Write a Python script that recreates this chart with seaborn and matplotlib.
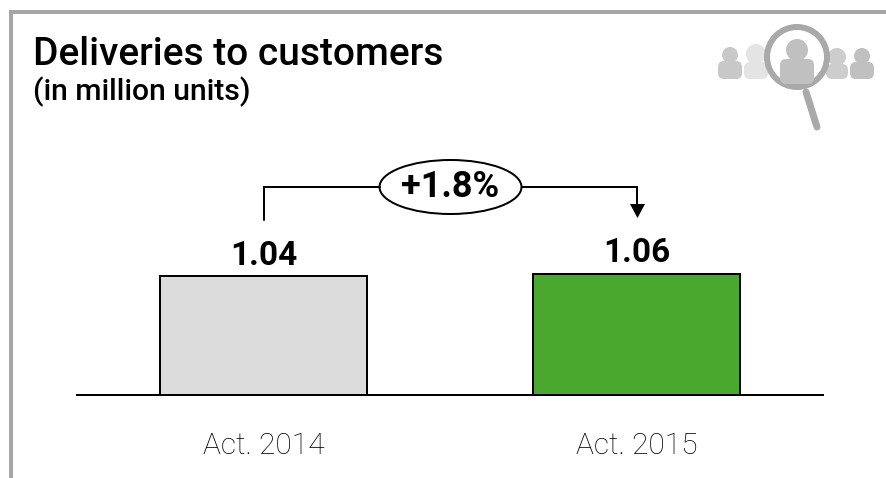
import matplotlib
matplotlib.use("Agg")
import matplotlib.pyplot as plt
import pandas as pd
import seaborn as sns
from matplotlib.patches import Circle, Ellipse, FancyBboxPatch, Polygon

categories = ["Act. 2014", "Act. 2015"]
values = [1.04, 1.06]
value_labels = ["1.04", "1.06"]
bar_colors = ["#dcdcdc", "#4aa82e"]
change_label = "+1.8%"
title = "Deliveries to customers"
subtitle = "(in million units)"

sns.set_theme(style="white")
plt.rcParams["font.family"] = ["Roboto", "DejaVu Sans"]

W, H = 886, 478
px = 0.72  # one pixel in points at dpi 100
fig = plt.figure(figsize=(W / 100, H / 100), dpi=100, facecolor="white")

# bar chart, axes spans the pixels above the baseline
ax = fig.add_axes([77 / W, (H - 395) / H, (823 - 77) / W, 395 / H])
df = pd.DataFrame({"period": categories, "units": values})
sns.barplot(data=df, x="period", y="units", hue="period", palette=bar_colors,
            width=0.555, edgecolor="black", linewidth=2 * px, legend=False,
            saturation=1, ax=ax)
ax.set_xlim(-0.5, 1.5)
ax.set_ylim(0, 3.447)
ax.set_xlabel("")
ax.set_ylabel("")
ax.set_yticks([])
ax.set_xticks(range(len(categories)))
ax.set_xticklabels(categories, fontsize=21.5, fontweight="light", color="black")
ax.tick_params(axis="x", length=0, pad=27)
ax.patch.set_alpha(0)
for s in ["top", "left", "right"]:
    ax.spines[s].set_visible(False)
ax.spines["bottom"].set_linewidth(2 * px)
ax.spines["bottom"].set_color("black")
for cont, lab in zip(ax.containers, value_labels):
    ax.bar_label(cont, labels=[lab], padding=3, fontsize=24, fontweight="bold", color="black")

# overlay in pixel coordinates for frame, bracket and icon
ov = fig.add_axes([0, 0, 1, 1], zorder=5)
ov.set_xlim(0, W)
ov.set_ylim(H, 0)
ov.axis("off")
ov.patch.set_alpha(0)

frame = "#a6a6a6"
ov.plot([11.5, 11.5, W], [H, 11.5, 11.5], color=frame, lw=4 * px, solid_joinstyle="miter")

ov.text(33, 65, title, fontsize=28, fontweight="medium", color="black", va="baseline", ha="left")
ov.text(33, 100, subtitle, fontsize=21.7, fontweight="medium", color="black", va="baseline", ha="left")

# bracket with the change bubble
ov.plot([264, 264, 380], [220, 187, 187], color="black", lw=2 * px, solid_joinstyle="miter")
ov.plot([522, 637, 637], [187, 187, 205], color="black", lw=2 * px, solid_joinstyle="miter")
ov.add_patch(Polygon([[630, 204], [645, 204], [637.5, 218]], closed=True, color="black", lw=0))
ov.add_patch(Ellipse((450.5, 187), 142, 54, fc="white", ec="black", lw=2 * px))
ov.text(450, 187, change_label, fontsize=26, fontweight="bold", color="black", ha="center", va="center")


# icon top right
def person(x, head_y, r, half, bottom, color):
    ov.add_patch(FancyBboxPatch((x - half, head_y + r - 2), 2 * half, bottom - head_y - r + 2,
                                boxstyle="round,pad=0,rounding_size=6", fc=color, ec="none"))
    ov.add_patch(Circle((x, head_y), r, fc=color, ec="none"))


person(730, 55, 8, 12, 79, "#c8c8c8")
person(756, 54, 10, 12, 79, "#e4e4e4")
person(837, 57, 9, 11, 79, "#cdcdcd")
person(862, 56, 8, 12, 79, "#c0c0c0")
ov.add_patch(Circle((797, 57), 30, fc="white", ec="#a9a9a9", lw=6 * px))
person(797, 50, 11, 17, 84, "#c0c0c0")
ov.plot([806, 817], [92, 127], color="#a9a9a9", lw=7 * px, solid_capstyle="round")

fig.savefig("out.png", dpi=100)
